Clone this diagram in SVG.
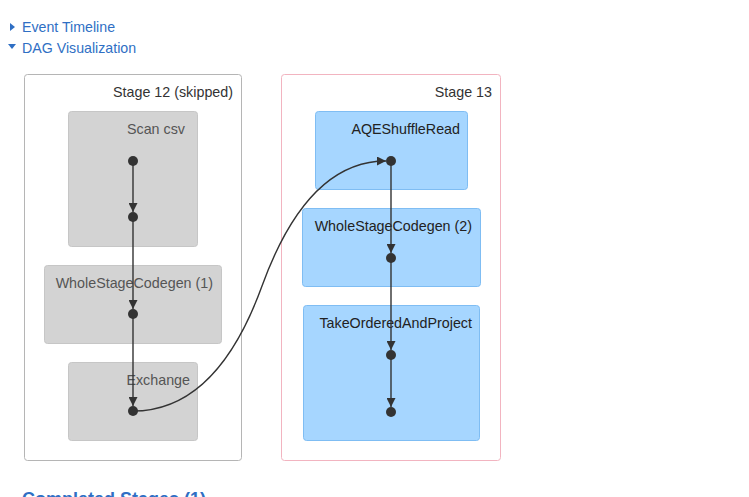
<svg xmlns="http://www.w3.org/2000/svg" width="749" height="497" viewBox="0 0 749 497">
<style>
.hdr{font-family:"Liberation Sans",Arial,sans-serif;font-size:14.2px;fill:#2f6fc4}
.cl{fill:#fff;stroke-width:1}
.skip{stroke:#b5b5b5}
.act{stroke:#f2b4c0}
.gn{fill:#d3d3d3;stroke:#c6c6c6}
.bn{fill:#a6d6ff;stroke:#7fbdf3}
.lbl{font-family:"Liberation Sans",Arial,sans-serif;font-size:14.3px;text-anchor:end}
.gl{fill:#555}
.bl{fill:#222}
.sl{fill:#333}
.e{fill:none;stroke:#333;stroke-width:1.4}
.dot{fill:#333}
</style>
<defs>
<marker id="ah" viewBox="0 0 10 10" refX="10" refY="5" markerWidth="9" markerHeight="9" markerUnits="userSpaceOnUse" orient="auto">
<path d="M0,0 L10,5 L0,10 z" fill="#333"/>
</marker>
</defs>
<rect width="749" height="497" fill="#fff"/>
<g id="header">
<path d="M10,23 L15,27 L10,31 z" fill="#2f6fc4"/>
<text class="hdr" x="22" y="32">Event Timeline</text>
<path d="M8,44 L16,44 L12,49 z" fill="#2f6fc4"/>
<text class="hdr" x="22" y="53">DAG Visualization</text>
</g>
<g id="stage12">
<rect class="cl skip" x="24.5" y="74.5" width="217" height="386" rx="3"/>
<text class="lbl sl" x="233" y="97">Stage 12 (skipped)</text>
</g>
<g id="stage13">
<rect class="cl act" x="281.5" y="74.5" width="219" height="386" rx="3"/>
<text class="lbl sl" x="492" y="97">Stage 13</text>
</g>
<g id="scan-csv">
<rect class="gn" x="68.5" y="111.5" width="129" height="135" rx="3"/>
<text class="lbl gl" x="185" y="134">Scan csv</text>
</g>
<g id="wsc1">
<rect class="gn" x="44.5" y="265.5" width="177" height="78" rx="3"/>
<text class="lbl gl" x="213" y="288">WholeStageCodegen (1)</text>
</g>
<g id="exchange">
<rect class="gn" x="68.5" y="362.5" width="129" height="78" rx="3"/>
<text class="lbl gl" x="190" y="385">Exchange</text>
</g>
<g id="aqe">
<rect class="bn" x="315.5" y="111.5" width="152" height="78" rx="3"/>
<text class="lbl bl" x="460" y="134">AQEShuffleRead</text>
</g>
<g id="wsc2">
<rect class="bn" x="302.5" y="208.5" width="178" height="78" rx="3"/>
<text class="lbl bl" x="472" y="231">WholeStageCodegen (2)</text>
</g>
<g id="take">
<rect class="bn" x="303.5" y="305.5" width="176" height="135" rx="3"/>
<text class="lbl bl" x="472" y="328">TakeOrderedAndProject</text>
</g>
<g id="connectors">
<path class="e" d="M133,161 L133,212" marker-end="url(#ah)"/>
<path class="e" d="M133,217 L133,309" marker-end="url(#ah)"/>
<path class="e" d="M133,314 L133,406" marker-end="url(#ah)"/>
<path class="e" d="M133,411 C190,411 232,368.5 262,286 C292,203.5 334,161 386,161" marker-end="url(#ah)"/>
<path class="e" d="M391,161 L391,253" marker-end="url(#ah)"/>
<path class="e" d="M391,258 L391,350" marker-end="url(#ah)"/>
<path class="e" d="M391,355 L391,407" marker-end="url(#ah)"/>
</g>
<g id="dots">
<circle class="dot" cx="133" cy="161" r="5"/>
<circle class="dot" cx="133" cy="217" r="5"/>
<circle class="dot" cx="133" cy="314" r="5"/>
<circle class="dot" cx="133" cy="411" r="5"/>
<circle class="dot" cx="391" cy="161" r="5"/>
<circle class="dot" cx="391" cy="258" r="5"/>
<circle class="dot" cx="391" cy="355" r="5"/>
<circle class="dot" cx="391" cy="412" r="5"/>
</g>
<text x="22" y="505" style="font-family:'Liberation Sans',Arial,sans-serif;font-size:18px;font-weight:bold;fill:#2f6fc4">Completed Stages (1)</text>
</svg>
